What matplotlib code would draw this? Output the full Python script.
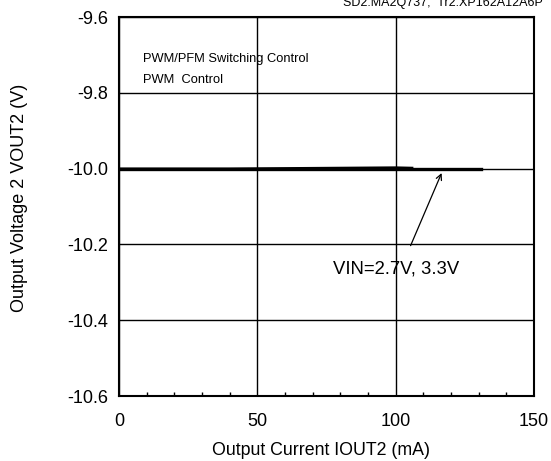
import matplotlib
matplotlib.use("Agg")
import matplotlib.pyplot as plt
from matplotlib.ticker import MultipleLocator

plt.rcParams['font.family'] = ['Liberation Sans', 'DejaVu Sans']

# Data
iout_27 = [0, 20, 40, 60, 80, 100, 120, 131]
vout_27 = [-10.0, -10.0, -10.0, -10.0, -10.0, -10.0, -10.0, -10.0]
iout_33 = [0, 20, 40, 60, 80, 100, 106]
vout_33 = [-10.0, -10.0, -10.0, -9.999, -9.998, -9.997, -9.998]

xticks = [0, 50, 100, 150]
yticks = [-10.6, -10.4, -10.2, -10.0, -9.8, -9.6]
ytick_labels = ["-10.6", "-10.4", "-10.2", "-10.0", "-9.8", "-9.6"]

fig = plt.figure(figsize=(5.51, 4.61), dpi=100)
L, R, T, B = 119, 534, 17, 396
ax = fig.add_axes([L/551, 1 - B/461, (R-L)/551, (B-T)/461])

ax.plot(iout_33, vout_33, color='black', lw=1.6, solid_capstyle='projecting')
ax.plot(iout_27, vout_27, color='black', lw=2.4, solid_capstyle='projecting')

ax.set_xlim(0, 150)
ax.set_ylim(-10.6, -9.6)
ax.set_xticks(xticks)
ax.set_xticklabels([str(t) for t in xticks])
ax.set_yticks(yticks)
ax.set_yticklabels(ytick_labels)
ax.xaxis.set_minor_locator(MultipleLocator(10))
ax.tick_params(which='major', length=0, labelsize=13)
ax.tick_params(axis='x', pad=12)
ax.tick_params(axis='y', pad=8)
ax.tick_params(which='minor', direction='in', length=3, width=1, color='black')
ax.grid(True, which='major', color='black', lw=1)
for s in ax.spines.values():
    s.set_linewidth(1.5)

ax.set_xlabel("Output Current IOUT2 (mA)", fontsize=12.8)
ax.set_ylabel("Output Voltage 2 VOUT2 (V)", fontsize=13)
ax.xaxis.set_label_coords((321 - L) / (R - L), (B - 442) / (B - T))
ax.yaxis.set_label_coords((28 - L) / (R - L), (B - 198) / (B - T))

ax.text(8.5, -9.712, "PWM/PFM Switching Control", fontsize=9.3,
        va='center', ha='left')
ax.text(8.5, -9.765, "PWM  Control", fontsize=9.3, va='center', ha='left')

ax.annotate("", xy=(117, -10.005), xytext=(105, -10.21),
            arrowprops=dict(arrowstyle='->', color='black', lw=0.9))
ax.text(77.5, -10.266, "VIN=2.7V, 3.3V", fontsize=13.3, va='center', ha='left')

fig.text(543/551, 1 - 3/461, "SD2:MA2Q737,  Tr2:XP162A12A6P", fontsize=9,
         ha='right', va='center')

fig.savefig("out.png", dpi=100)
